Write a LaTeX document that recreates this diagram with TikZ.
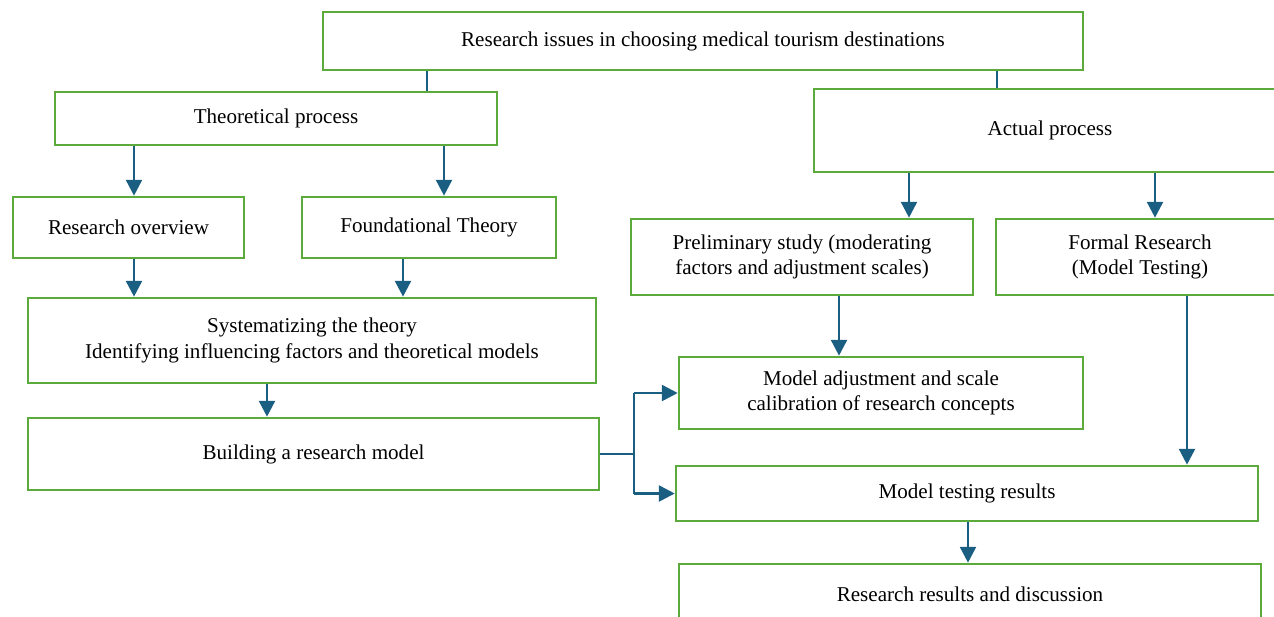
\documentclass[tikz,border=0pt]{standalone}
\usepackage{fontspec}
\setmainfont{Liberation Serif}
\usetikzlibrary{arrows.meta}

\definecolor{boxgreen}{RGB}{92,170,60}
\definecolor{arrowblue}{RGB}{26,94,130}

\tikzset{
  box/.style={draw=boxgreen, line width=1.5pt, fill=white, align=center,
    inner sep=2pt, font=\fontsize{12}{14.5}\selectfont},
  arr/.style={draw=arrowblue, line width=1.5pt,
    -{Triangle[width=9pt,length=9pt]}},
  thinline/.style={draw=arrowblue, line width=0.6pt}
}

\begin{document}
\begin{tikzpicture}[x=0.02cm, y=-0.02cm]
    \clip (0,0) rectangle (1274,616);
    % columns of the connectors
    \coordinate (cA) at (134,0);  \coordinate (cB) at (444,0);
    \coordinate (cC) at (403,0);  \coordinate (cD) at (267,0);
    \coordinate (cE) at (909,0);  \coordinate (cF) at (1155,0);
    \coordinate (cG) at (839,0);  \coordinate (cH) at (1187,0);
    \coordinate (cI) at (968,0);  \coordinate (cJ) at (427,0);
    \coordinate (cK) at (997,0);  \coordinate (split) at (634,0);

    \node[box, minimum width=15.2cm, minimum height=1.16cm] (issues) at (703,41)
        {Research issues in choosing medical tourism destinations};
    \node[box, minimum width=8.84cm, minimum height=1.06cm] (theo) at (276,118.5)
        {Theoretical process};
    \node[box, minimum width=9.44cm, minimum height=1.66cm] (actual) at (1050,130.5)
        {Actual process};
    \node[box, minimum width=4.62cm, minimum height=1.22cm] (overview) at (128.5,227.5)
        {Research overview};
    \node[box, minimum width=5.08cm, minimum height=1.22cm] (found) at (429,227.5)
        {Foundational Theory};
    \node[box, minimum width=6.84cm, minimum height=1.52cm] (prelim) at (802,257)
        {Preliminary study (moderating\\factors and adjustment scales)};
    \node[box, minimum width=5.76cm, minimum height=1.52cm] (formal) at (1140,257)
        {Formal Research\\(Model Testing)};
    \node[box, minimum width=11.36cm, minimum height=1.7cm] (syst) at (312,340.5)
        {Systematizing the theory\\Identifying influencing factors and theoretical models};
    \node[box, minimum width=8.08cm, minimum height=1.44cm] (adjust) at (881,393)
        {Model adjustment and scale\\calibration of research concepts};
    \node[box, minimum width=11.42cm, minimum height=1.44cm] (build) at (313.5,454)
        {Building a research model};
    \node[box, minimum width=11.64cm, minimum height=1.1cm] (testing) at (967,493.5)
        {Model testing results};
    \node[box, minimum width=11.64cm, minimum height=1.2cm] (results) at (970,594)
        {Research results and discussion};

    % thin links from the top
    \draw[thinline] (issues.south -| cJ) -- (theo.north -| cJ);
    \draw[thinline] (issues.south -| cK) -- (actual.north -| cK);

    % arrows
    \draw[arr] (theo.south -| cA) -- (overview.north -| cA);
    \draw[arr] (theo.south -| cB) -- (found.north -| cB);
    \draw[arr] (actual.south -| cE) -- (prelim.north -| cE);
    \draw[arr] (actual.south -| cF) -- (formal.north -| cF);
    \draw[arr] (overview.south -| cA) -- (syst.north -| cA);
    \draw[arr] (found.south -| cC) -- (syst.north -| cC);
    \draw[arr] (syst.south -| cD) -- (build.north -| cD);
    \draw[arr] (prelim.south -| cG) -- (adjust.north -| cG);
    \draw[arr] (formal.south -| cH) -- (testing.north -| cH);
    \draw[arr] (testing.south -| cI) -- (results.north -| cI);

    % split from the research model
    \draw[thinline] (build.east) -- (build.east -| split);
    \draw[thinline] (adjust.west -| split) -- (testing.west -| split);
    \draw[arr] (adjust.west -| split) -- (adjust.west);
    \draw[arr] (testing.west -| split) -- (testing.west);
\end{tikzpicture}
\end{document}
